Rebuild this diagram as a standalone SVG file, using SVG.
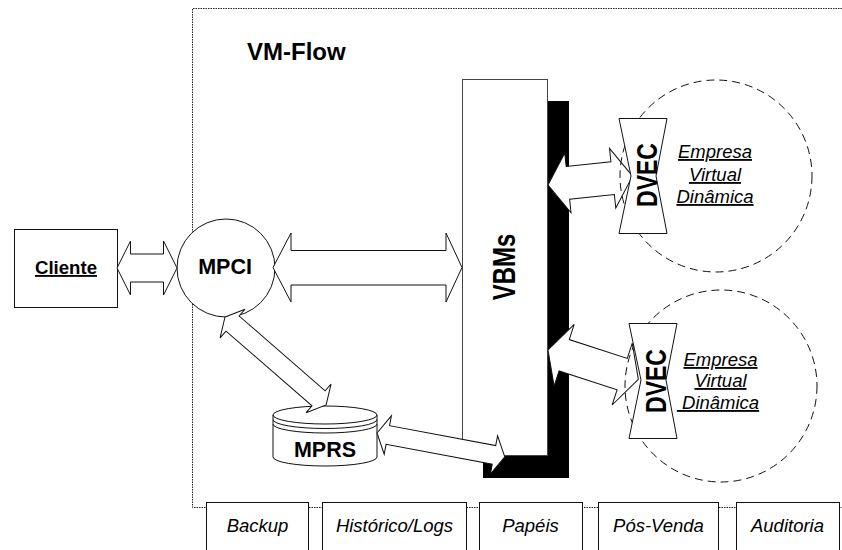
<svg xmlns="http://www.w3.org/2000/svg" width="842" height="550" viewBox="0 0 842 550">
  <style>
    .frame { fill: none; stroke: #222; stroke-width: 1; stroke-dasharray: 1.5 1; }
    .box { fill: #fff; stroke: #111; stroke-width: 1; }
    .arrow { fill: #fff; stroke: #111; stroke-width: 1; stroke-linejoin: miter; }
    .zone { fill: none; stroke: #111; stroke-width: 1; stroke-dasharray: 8 5; }
    .bold { font-family: "Liberation Sans", Arial, sans-serif; font-weight: bold; fill: #000; }
    .ital { font-family: "Liberation Sans", Arial, sans-serif; font-style: italic; fill: #000; }
  </style>

  <!-- VM-Flow boundary -->
  <g id="vmflow">
    <path class="frame" d="M842,8.5 H192.5 V507.5 H842"/>
    <text class="bold" x="247" y="60" font-size="24">VM-Flow</text>
  </g>

  <!-- Cliente -->
  <g id="cliente">
    <rect class="box" x="14.5" y="229.5" width="103" height="78"/>
    <text class="bold" x="66" y="274" font-size="18.6" text-anchor="middle" text-decoration="underline">Cliente</text>
  </g>

  <!-- MPCI -->
  <g id="mpci">
    <circle class="box" cx="226" cy="268" r="49"/>
    <text class="bold" x="225" y="274" font-size="21.5" text-anchor="middle">MPCI</text>
  </g>

  <!-- VBMs with drop shadow -->
  <g id="vbms">
    <rect x="483" y="101" width="86" height="377" fill="#000"/>
    <rect x="462.5" y="79.5" width="85" height="376" fill="#fff" stroke="#444" stroke-width="1"/>
    <text class="bold" font-size="24" text-anchor="middle" y="8.6" transform="translate(504,267) rotate(-90) scale(1,1.3)">VBMs</text>
  </g>

  <!-- MPRS repository -->
  <g id="mprs">
    <path class="box" d="M273,415 V457 A52,9 0 0 0 377,457 V415 A52,9 0 0 0 273,415 Z"/>
    <path fill="none" stroke="#111" stroke-width="1" d="M273,415 A52,9 0 0 0 377,415 M273,419.5 A52,9 0 0 0 377,419.5 M273,424 A52,9 0 0 0 377,424"/>
    <text class="bold" x="325" y="457" font-size="21.5" text-anchor="middle">MPRS</text>
  </g>

  <!-- Connectors: double block arrows -->
  <g id="connectors">
    <polygon class="arrow" points="117,268 130.5,241 130.5,254 163.5,254 163.5,241 177,268 163.5,295 163.5,282 130.5,282 130.5,295"/>
    <polygon class="arrow" points="273,267.5 291,233 291,250.5 446,250.5 446,233 462,267.5 446,302 446,285 291,285 291,302"/>
    <polygon class="arrow" transform="translate(225,317) rotate(41)" points="0,0 10,-19 10,-10 124,-10 124,-19 134,0 124,19 124,10 10,10 10,19"/>
    <polygon class="arrow" transform="translate(377,433) rotate(10.6)" points="0,0 11,-19.5 11,-9.5 119,-9.5 119,-19.5 130,0 119,19.5 119,9.5 11,9.5 11,19.5"/>
    <polygon class="arrow" transform="translate(548,185) rotate(-6)" points="0,0 20,-30 20,-16.5 65,-16.5 65,-30 85,0 65,30 65,16.5 20,16.5 20,30"/>
    <polygon class="arrow" transform="translate(548,350) rotate(18)" points="0,0 17,-32.5 17,-16.5 78,-16.5 78,-32.5 95,0 78,32.5 78,16.5 17,16.5 17,32.5"/>
  </g>

  <!-- Dynamic virtual enterprises -->
  <g id="evd1">
    <circle class="zone" cx="716" cy="176" r="96"/>
    <text class="ital" font-size="18.5" text-anchor="middle" text-decoration="underline"><tspan x="715" y="158">Empresa</tspan><tspan x="715" y="181">Virtual</tspan><tspan x="715" y="203">Dinâmica</tspan></text>
  </g>
  <g id="dvec1">
    <polygon class="box" points="619,118.5 667,118.5 656,176 667,233.5 619,233.5 631,176"/>
    <text class="bold" font-size="23" text-anchor="middle" y="8.2" transform="translate(646.5,175) rotate(-90) scale(1,1.3)">DVEC</text>
  </g>

  <g id="evd2">
    <circle class="zone" cx="721" cy="386" r="96"/>
    <text class="ital" font-size="18.5" text-anchor="middle" text-decoration="underline" xml:space="preserve"><tspan x="720.5" y="366">Empresa</tspan><tspan x="720.5" y="387">Virtual</tspan><tspan x="718" y="409"> Dinâmica</tspan></text>
  </g>
  <g id="dvec2">
    <polygon class="box" points="629,323.5 677,323.5 666,380 677,438.5 629,438.5 641,380"/>
    <text class="bold" font-size="23" text-anchor="middle" y="8.2" transform="translate(655,381) rotate(-90) scale(1,1.3)">DVEC</text>
  </g>

  <!-- Service tabs -->
  <g id="tab-backup">
    <rect class="box" x="206.5" y="502.5" width="102" height="60"/>
    <text class="ital" x="257.5" y="532" font-size="18.5" text-anchor="middle">Backup</text>
  </g>
  <g id="tab-historico">
    <rect class="box" x="322.5" y="502.5" width="144" height="60"/>
    <text class="ital" x="394.5" y="532" font-size="18.5" text-anchor="middle">Histórico/Logs</text>
  </g>
  <g id="tab-papeis">
    <rect class="box" x="479.5" y="502.5" width="103" height="60"/>
    <text class="ital" x="530.5" y="532" font-size="18.5" text-anchor="middle">Papéis</text>
  </g>
  <g id="tab-posvenda">
    <rect class="box" x="598.5" y="502.5" width="120" height="60"/>
    <text class="ital" x="658.5" y="532" font-size="18.5" text-anchor="middle">Pós-Venda</text>
  </g>
  <g id="tab-auditoria">
    <rect class="box" x="736.5" y="502.5" width="103" height="60"/>
    <text class="ital" x="787.5" y="532" font-size="18.5" text-anchor="middle">Auditoria</text>
  </g>
</svg>
